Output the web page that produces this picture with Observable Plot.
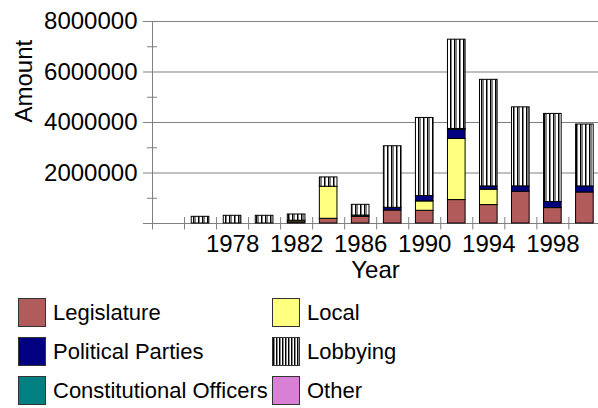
<!DOCTYPE html>
<html>
<head>
<meta charset="utf-8">
<script src="https://cdn.jsdelivr.net/npm/d3@7"></script>
<script src="https://cdn.jsdelivr.net/npm/@observablehq/plot@0.6"></script>
<style>
  html, body { margin: 0; padding: 0; background: #fff; }
  body { width: 598px; height: 408px; overflow: hidden; font-family: "Liberation Sans", Arial, sans-serif; }
  #chart svg { display: block; }
  .legend { display: grid; grid-template-columns: 254px auto; row-gap: 10px; padding-left: 18px; margin-top: 8px; font-size: 22px; color: #000; }
  .item { display: flex; align-items: center; height: 29px; white-space: nowrap; }
  .sw { width: 28px; height: 29px; box-sizing: border-box; border: 1px solid #333; margin-right: 7px; flex: none; }
</style>
</head>
<body>
<svg width="0" height="0" style="position:absolute">
  <defs>
    <pattern id="lobbyPat" patternUnits="userSpaceOnUse" width="9" height="4">
      <rect width="9" height="4" fill="#fff"></rect>
      <rect x="0" width="1" height="4" fill="#000"></rect>
      <rect x="1" width="1" height="4" fill="#808080"></rect>
      <rect x="4" width="1" height="4" fill="#000"></rect>
      <rect x="5" width="2" height="4" fill="#808080"></rect>
    </pattern>
  </defs>
</svg>
<div id="chart"></div>
<div class="legend" id="legend"></div>
<script>
// ---- data ----
const years = [1976, 1978, 1980, 1982, 1984, 1986, 1988, 1990, 1992, 1994, 1996, 1998, 2000];
const seriesNames = ["Legislature", "Local", "Political Parties", "Constitutional Officers", "Lobbying", "Other"];
const legislature            = [0, 0, 0, 50000, 186000, 265000, 516000, 503000, 928000, 730000, 1258000, 611000, 1230000];
const local                  = [0, 0, 0, 60000, 1270000, 0, 0, 370000, 2420000, 608000, 0, 0, 0];
const politicalParties       = [0, 0, 0, 0, 0, 0, 106000, 212000, 357000, 131000, 212000, 238000, 238000];
const constitutionalOfficers = [0, 0, 0, 0, 0, 50000, 0, 0, 40000, 0, 0, 0, 0];
const lobbying               = [265000, 305000, 305000, 247000, 369000, 425000, 2438000, 3095000, 3535000, 4221000, 3130000, 3491000, 2452000];
const other                  = [0, 0, 0, 0, 0, 0, 0, 0, 0, 0, 0, 0, 0];
const seriesColors = ["#b25b5b", "#ffff80", "#000080", "#008080", "url(#lobbyPat)", "#d880d6"];
const xTickYears = [1973, 1975, 1977, 1979, 1981, 1983, 1985, 1987, 1989, 1991, 1993, 1995, 1997, 1999];
const labelYears = [1978, 1982, 1986, 1990, 1994, 1998];
const yMajor = [0, 2000000, 4000000, 6000000, 8000000];
const yMinor = [1000000, 3000000, 5000000, 7000000];
const xDomain = [1973, 2000.85];

const seriesValues = [legislature, local, politicalParties, constitutionalOfficers, lobbying, other];
const data = [];
seriesNames.forEach((s, i) => years.forEach((y, j) => data.push({year: y, series: s, value: seriesValues[i][j]})));

const chart = Plot.plot({
  width: 598, height: 290,
  marginLeft: 152, marginRight: 0, marginTop: 21, marginBottom: 67,
  style: {fontFamily: '"Liberation Sans", Arial, sans-serif', fontSize: "24px", color: "#000", background: "white", overflow: "visible"},
  x: {type: "linear", domain: xDomain},
  y: {domain: [0, 8000000]},
  color: {domain: seriesNames, range: seriesColors},
  marks: [
    Plot.ruleY(yMajor, {stroke: "#808080", strokeWidth: 1, insetLeft: -9}),
    Plot.ruleX([xDomain[0]], {stroke: "#808080", strokeWidth: 1, insetBottom: -6}),
    Plot.rectY(data, {x: "year", x1: d => d.year - 1, x2: d => d.year + 1, y: "value", fill: "series",
      stroke: "black", strokeWidth: 1, insetLeft: 7.2, insetRight: 7.2}),
    Plot.axisY({ticks: yMajor.filter(v => v > 0), tickSize: 0, tickPadding: 15, tickFormat: d => String(d), label: null}),
    Plot.axisY({ticks: yMinor, tickSize: 10, dx: 5, tickFormat: () => "", label: null, stroke: "#808080"}),
    Plot.axisX({ticks: xTickYears, tickSize: 12.5, dy: -6, tickFormat: () => "", label: null, stroke: "#808080"}),
    Plot.axisX({ticks: labelYears, tickSize: 0, tickPadding: 11, tickFormat: d => String(d), label: null}),
    Plot.text(["Year"], {frameAnchor: "bottom", lineAnchor: "top", dy: 37, fontSize: 24, fill: "#000"}),
    Plot.text(["Amount"], {frameAnchor: "left", rotate: -90, dx: -128, fontSize: 24, fill: "#000"})
  ]
});
document.getElementById("chart").appendChild(chart);

// ---- legend ----
const legendOrder = ["Legislature", "Local", "Political Parties", "Lobbying", "Constitutional Officers", "Other"];
const legendBg = {
  "Legislature": "#b25b5b", "Local": "#ffff80", "Political Parties": "#000080",
  "Constitutional Officers": "#008080", "Other": "#d880d6",
  "Lobbying": "repeating-linear-gradient(90deg, #000 0 1px, #8a8a8a 1px 2px, #fff 2px 3px)"
};
const leg = d3.select("#legend");
legendOrder.forEach(name => {
  const it = leg.append("div").attr("class", "item");
  it.append("div").attr("class", "sw").style("background", legendBg[name]);
  it.append("span").text(name);
});
</script>
</body>
</html>
